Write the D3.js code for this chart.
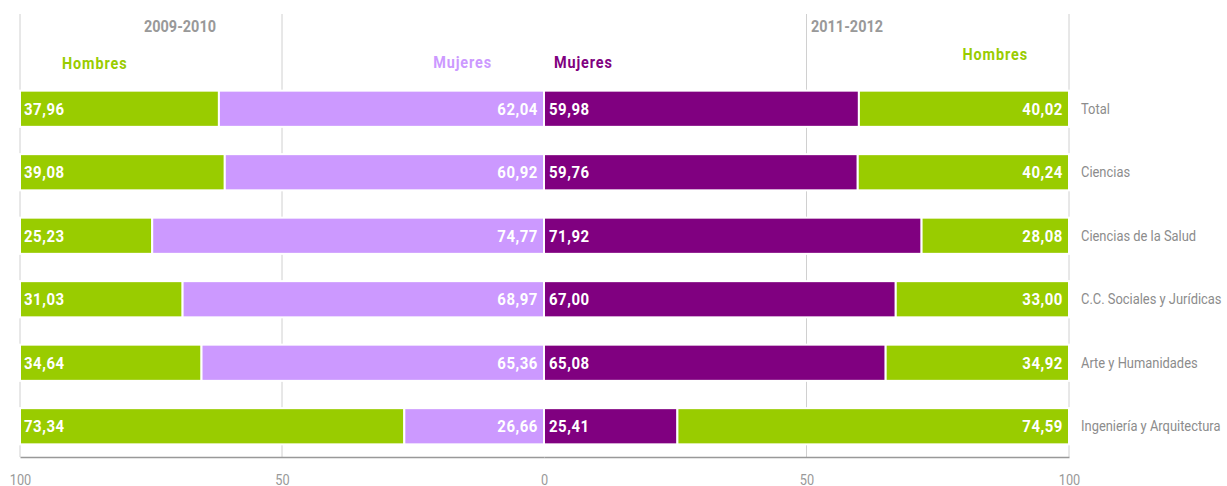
<!DOCTYPE html>
<html>
<head>
<meta charset="utf-8">
<script src="https://d3js.org/d3.v7.min.js"></script>
<style>
  body { margin: 0; background: #fff; }
  svg text { font-family: "Roboto", "Liberation Sans", sans-serif; }
</style>
</head>
<body>
<div id="chart"></div>
<script>
const categories = ["Total", "Ciencias", "Ciencias de la Salud", "C.C. Sociales y Jurídicas", "Arte y Humanidades", "Ingeniería y Arquitectura"];
const hombres2009 = [37.96, 39.08, 25.23, 31.03, 34.64, 73.34];
const mujeres2009 = [62.04, 60.92, 74.77, 68.97, 65.36, 26.66];
const mujeres2011 = [59.98, 59.76, 71.92, 67.00, 65.08, 25.41];
const hombres2011 = [40.02, 40.24, 28.08, 33.00, 34.92, 74.59];
const tickValues = [100, 50, 0];

const width = 1227, height = 486;
const green = "#99cc00", lightPurple = "#cc99ff", darkPurple = "#800080";
const fmt = v => d3.format(".2f")(v).replace(".", ",");

// squeeze text horizontally to mimic the condensed face of the original
function condense(sel, factor) {
    sel.each(function() {
        const len = this.getComputedTextLength();
        d3.select(this).attr("textLength", len * factor).attr("lengthAdjust", "spacingAndGlyphs");
    });
}

const svg = d3.select("#chart").append("svg")
    .attr("width", width)
    .attr("height", height);

const xL = d3.scaleLinear().domain([100, 0]).range([20, 544]);
const xR = d3.scaleLinear().domain([0, 100]).range([544, 1069]);
const y = d3.scaleBand().domain(categories).range([77, 458]).paddingInner(0.43).paddingOuter(0.215);

// vertical gridlines
const grid = [xL(100), xL(50), xR(50), xR(100)];
svg.selectAll("line.grid").data(grid).join("line")
    .attr("class", "grid")
    .attr("x1", d => d).attr("x2", d => d)
    .attr("y1", 14).attr("y2", 457)
    .attr("stroke", "#d0d0d0").attr("stroke-width", 1);

// bars
const rows = categories.map((c, i) => ({c, h9: hombres2009[i], m9: mujeres2009[i], m11: mujeres2011[i], h11: hombres2011[i]}));

const bars = [];
rows.forEach(r => {
    bars.push({c: r.c, x0: xL(100), x1: xL(100 - r.h9), fill: green});
    bars.push({c: r.c, x0: xL(r.m9), x1: xL(0), fill: lightPurple});
    bars.push({c: r.c, x0: xR(0), x1: xR(r.m11), fill: darkPurple});
    bars.push({c: r.c, x0: xR(r.m11), x1: xR(100), fill: green});
});

svg.selectAll("rect.bar").data(bars).join("rect")
    .attr("class", "bar")
    .attr("x", d => d.x0)
    .attr("y", d => y(d.c))
    .attr("width", d => d.x1 - d.x0)
    .attr("height", y.bandwidth())
    .attr("fill", d => d.fill)
    .attr("stroke", "#fff")
    .attr("stroke-width", 2);

// value labels
const labels = [];
rows.forEach(r => {
    labels.push({c: r.c, x: xL(100) + 4, v: r.h9, anchor: "start"});
    labels.push({c: r.c, x: xL(0) - 6, v: r.m9, anchor: "end"});
    labels.push({c: r.c, x: xR(0) + 5, v: r.m11, anchor: "start"});
    labels.push({c: r.c, x: xR(100) - 6, v: r.h11, anchor: "end"});
});

svg.selectAll("text.val").data(labels).join("text")
    .attr("class", "val")
    .attr("x", d => d.x)
    .attr("y", d => y(d.c) + y.bandwidth() / 2 + 6)
    .attr("text-anchor", d => d.anchor)
    .attr("fill", "#fff")
    .attr("font-size", 17)
    .attr("font-weight", "bold")
    .attr("letter-spacing", 0.6)
    .text(d => fmt(d.v))
    .call(condense, 0.88);

// category labels
svg.selectAll("text.cat").data(categories).join("text")
    .attr("class", "cat")
    .attr("x", 1081)
    .attr("y", d => y(d) + y.bandwidth() / 2 + 5)
    .attr("fill", "#8c8c8c")
    .attr("font-size", 15)
    .text(d => d)
    .call(condense, 0.86);

// axis
const axisL = svg.append("g").attr("transform", "translate(0,457)")
    .call(d3.axisBottom(xL).tickValues(tickValues).tickSize(0).tickPadding(17));
const axisR = svg.append("g").attr("transform", "translate(0,457)")
    .call(d3.axisBottom(xR).tickValues([50, 100]).tickSize(0).tickPadding(17));
[axisL, axisR].forEach(a => {
    a.select(".domain").attr("stroke", "#999").attr("stroke-width", 1.5);
    a.selectAll("text").attr("fill", "#999").attr("font-size", 15).call(condense, 0.85);
});

// headers
svg.append("text").attr("x", 216).attr("y", 32).attr("text-anchor", "end")
    .attr("fill", "#999").attr("font-size", 17).attr("font-weight", "bold").text("2009-2010")
    .call(condense, 0.85);
svg.append("text").attr("x", 811).attr("y", 32)
    .attr("fill", "#999").attr("font-size", 17).attr("font-weight", "bold").text("2011-2012")
    .call(condense, 0.85);

const legend = [
    {t: "Hombres", x: 62, y: 69, fill: green, anchor: "start"},
    {t: "Mujeres", x: 492, y: 68, fill: lightPurple, anchor: "end"},
    {t: "Mujeres", x: 554, y: 68, fill: darkPurple, anchor: "start"},
    {t: "Hombres", x: 1028, y: 60, fill: green, anchor: "end"}
];
svg.selectAll("text.leg").data(legend).join("text")
    .attr("class", "leg")
    .attr("x", d => d.x).attr("y", d => d.y)
    .attr("text-anchor", d => d.anchor)
    .attr("fill", d => d.fill)
    .attr("font-size", 16)
    .attr("font-weight", "bold")
    .attr("letter-spacing", 1)
    .text(d => d.t)
    .call(condense, 0.9);
</script>
</body>
</html>
